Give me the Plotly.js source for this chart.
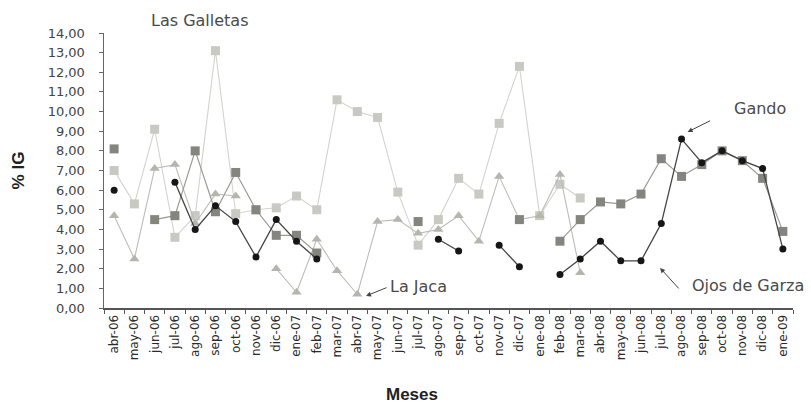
<!DOCTYPE html>
<html><head><meta charset="utf-8">
<script src="https://cdn.plot.ly/plotly-3.0.1.min.js"></script>
<style>html,body{margin:0;padding:0;background:#fff}#chart{width:811px;height:406px}</style>
</head><body><div id="chart"></div>
<script>
const months = ['abr-06','may-06','jun-06','jul-06','ago-06','sep-06','oct-06','nov-06','dic-06','ene-07','feb-07','mar-07','abr-07','may-07','jun-07','jul-07','ago-07','sep-07','oct-07','nov-07','dic-07','ene-08','feb-08','mar-08','abr-08','may-08','jun-08','jul-08','ago-08','sep-08','oct-08','nov-08','dic-08','ene-09'];

const lasGalletas = [7.0,5.3,9.1,3.6,4.7,13.1,4.8,5.0,5.1,5.7,5.0,10.6,10.0,9.7,5.9,3.2,4.5,6.6,5.8,9.4,12.3,4.7,6.3,5.6,null,null,null,null,null,null,null,null,null,null];
const laJaca = [4.7,2.5,7.1,7.3,4.3,5.8,5.7,null,2.0,0.8,3.5,1.9,0.7,4.4,4.5,3.8,4.0,4.7,3.4,6.7,4.5,4.7,6.8,1.8,null,null,null,null,null,null,null,null,null,null];
const gando = [8.1,null,4.5,4.7,8.0,4.9,6.9,5.0,3.7,3.7,2.8,null,null,null,null,4.4,null,null,null,null,4.5,null,3.4,4.5,5.4,5.3,5.8,7.6,6.7,7.3,8.0,7.5,6.6,3.9];
const ojosGarza = [6.0,null,null,6.4,4.0,5.2,4.4,2.6,4.5,3.4,2.5,null,null,null,null,null,3.5,2.9,null,3.2,2.1,null,1.7,2.5,3.4,2.4,2.4,4.3,8.6,7.4,8.0,7.5,7.1,3.0];

const yTicks = [0,1,2,3,4,5,6,7,8,9,10,11,12,13,14];
const yTickText = yTicks.map(v => v.toFixed(2).replace('.', ','));

const traces = [
  {name:'Las Galletas', x:months, y:lasGalletas, type:'scatter', mode:'lines+markers',
   line:{color:'#d3d3ce', width:1.1}, marker:{symbol:'square', size:9, color:'#c9c9c3'}},
  {name:'La Jaca', x:months, y:laJaca, type:'scatter', mode:'lines+markers',
   line:{color:'#bdbdb7', width:1.1}, marker:{symbol:'triangle-up', size:9, color:'#b5b5ae'}},
  {name:'Gando', x:months, y:gando, type:'scatter', mode:'lines+markers',
   line:{color:'#9a9a95', width:1.2}, marker:{symbol:'square', size:9, color:'#85857f'}},
  {name:'Ojos de Garza', x:months, y:ojosGarza, type:'scatter', mode:'lines+markers',
   line:{color:'#444', width:1.3}, marker:{symbol:'circle', size:7, color:'#161616'}}
];

const annFont = {family:'DejaVu Sans', size:16, color:'#4a4a4a'};
const W = 811, H = 406, L = 104, R = 18, T = 33, B = 98;
const px2paperX = px => (px - L) / (W - L - R);
const px2paperY = py => (H - B - py) / (H - T - B);

const layout = {
  width:W, height:H,
  margin:{l:L, r:R, t:T, b:B},
  paper_bgcolor:'#fff', plot_bgcolor:'#fff',
  showlegend:false,
  xaxis:{type:'category', categoryorder:'array', categoryarray:months, range:[-0.5,33.5],
    tickangle:-90, showline:true, linecolor:'#555', linewidth:2, ticks:'outside', ticklen:4,
    tickson:'boundaries', tickcolor:'#555', showgrid:false, zeroline:false,
    tickfont:{family:'DejaVu Sans', size:12, color:'#2a2a2a'}},
  yaxis:{range:[0,14], tickvals:yTicks, ticktext:yTickText, showline:true, linecolor:'#666',
    linewidth:1.5, ticks:'outside', ticklen:4, tickcolor:'#666', showgrid:false, zeroline:false,
    ticklabelstandoff:11,
    tickfont:{family:'DejaVu Sans', size:13, color:'#444'},
    title:{text:'<b>% IG</b>', font:{family:'Liberation Sans', size:17, color:'#222'}, standoff:18}},
  annotations:[
    {text:'Las Galletas', x:px2paperX(200), y:px2paperY(21), xref:'paper', yref:'paper',
     xanchor:'center', yanchor:'middle', showarrow:false, font:annFont},
    {text:'Gando', x:31.88, y:10.18, xref:'x', yref:'y', xanchor:'center', yanchor:'middle', showarrow:false, font:annFont},
    {text:'', x:28.3, y:8.96, xref:'x', yref:'y', showarrow:true, ax:24, ay:-12, arrowhead:2, arrowwidth:1, arrowcolor:'#444'},
    {text:'La Jaca', x:15.0, y:1.07, xref:'x', yref:'y', xanchor:'center', yanchor:'middle', showarrow:false, font:annFont},
    {text:'', x:12.43, y:0.61, xref:'x', yref:'y', showarrow:true, ax:22, ay:-9, arrowhead:2, arrowwidth:1, arrowcolor:'#444'},
    {text:'Ojos de Garza', x:px2paperX(748), y:1.17, xref:'paper', yref:'y', xanchor:'center', yanchor:'middle', showarrow:false, font:annFont},
    {text:'', x:26.94, y:2.04, xref:'x', yref:'y', showarrow:true, ax:20, ay:22, arrowhead:2, arrowwidth:1, arrowcolor:'#444'},
    {text:'<b>Meses</b>', x:px2paperX(412), y:px2paperY(394), xref:'paper', yref:'paper',
     xanchor:'center', yanchor:'middle', showarrow:false,
     font:{family:'Liberation Sans', size:17, color:'#222'}}
  ]
};

Plotly.newPlot('chart', traces, layout, {displayModeBar:false, staticPlot:true});
</script>
</body></html>
